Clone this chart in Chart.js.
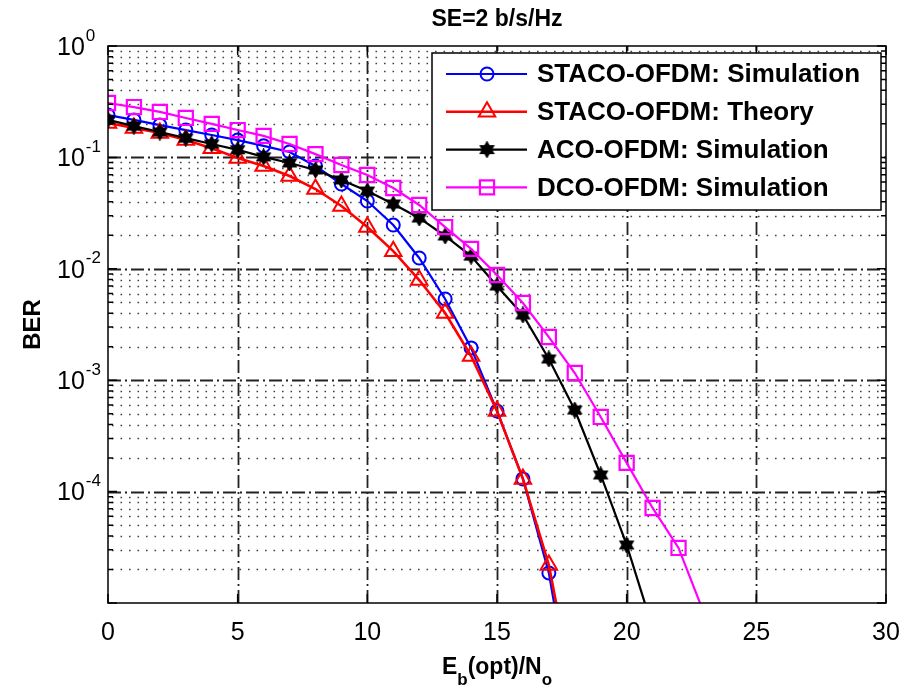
<!DOCTYPE html>
<html>
<head>
<meta charset="utf-8">
<script src="https://cdn.jsdelivr.net/npm/chart.js@4.4.1/dist/chart.umd.min.js"></script>
<style>
html,body{margin:0;padding:0;background:#fff;}
</style>
</head>
<body>
<canvas id="ber" width="903" height="692"></canvas>
<script>
// Eb(opt)/No in dB
var snr = [0,1,2,3,4,5,6,7,8,9,10,11,12,13,14,15,16,17,18,19,20,21,22,23];

// BER
var stacoSim = [0.240,0.217,0.195,0.176,0.159,0.143,0.127,0.112,0.0837,0.0577,0.0406,0.0247,0.0125,0.00536,0.00195,5.29e-4,1.30e-4,1.86e-5,8.3e-7];
var stacoTheory = [0.204,0.184,0.166,0.143,0.121,0.0988,0.0837,0.0681,0.0520,0.0366,0.0237,0.0144,0.00793,0.00401,0.00165,5.29e-4,1.30e-4,2.19e-5,1.35e-6];
var acoSim = [0.217,0.191,0.169,0.149,0.132,0.117,0.101,0.0891,0.0771,0.0627,0.0499,0.0382,0.0286,0.0197,0.0130,0.00701,0.00385,0.00155,5.40e-4,1.41e-4,3.32e-5,6.0e-6];
var dcoSim = [0.308,0.283,0.256,0.226,0.200,0.176,0.156,0.132,0.107,0.0855,0.0695,0.0531,0.0374,0.0237,0.0151,0.00880,0.00493,0.00244,0.00116,4.68e-4,1.81e-4,7.13e-5,3.12e-5,7.9e-6];

var seriesNames = ['STACO-OFDM: Simulation','STACO-OFDM: Theory','ACO-OFDM: Simulation','DCO-OFDM: Simulation'];

// axis ticks
var xTicks = [0,5,10,15,20,25,30];
var yDecades = [1,1e-1,1e-2,1e-3,1e-4,1e-5];
var yExponents = ['0','-1','-2','-3','-4'];
var yMinor = [2,3,4,5,6,7,8,9];

var narrow = "'Liberation Sans Narrow','Liberation Sans',Arial,sans-serif";
var sans = "'Liberation Sans',Arial,sans-serif";

function toPoints(arr){
  return arr.map(function(v,i){ return {x:snr[i], y:v}; });
}

function hexagram(size, color, lw){
  var c = document.createElement('canvas');
  c.width = size; c.height = size;
  var g = c.getContext('2d');
  var cx = size/2, r = size/2 - lw/2 - 0.5;
  g.beginPath();
  for (var i=0;i<12;i++){
    var a = -Math.PI/2 + i*Math.PI/6;
    var rr = (i%2==0) ? r : r*0.577;
    g.lineTo(cx + rr*Math.cos(a), cx + rr*Math.sin(a));
  }
  g.closePath();
  g.fillStyle = color;
  g.fill();
  g.lineWidth = lw;
  g.strokeStyle = color;
  g.stroke();
  return c;
}
var hexMark = hexagram(17, '#000', 2);

function drawMarker(ctx, ds, x, y){
  ctx.save();
  ctx.lineWidth = ds.pointBorderWidth;
  ctx.strokeStyle = ds.pointBorderColor;
  var st = ds.pointStyle, r = ds.pointRadius;
  if (typeof st !== 'string'){
    ctx.drawImage(st, x - st.width/2, y - st.height/2);
  } else {
    ctx.beginPath();
    if (st === 'circle') ctx.arc(x, y, r, 0, Math.PI*2);
    if (st === 'rect'){ var s = r*Math.SQRT1_2; ctx.rect(x-s, y-s, 2*s, 2*s); }
    if (st === 'triangle'){
      for (var i=0;i<3;i++){
        var a = -Math.PI/2 + i*2*Math.PI/3;
        ctx.lineTo(x + r*Math.cos(a), y + r*Math.sin(a));
      }
      ctx.closePath();
    }
    ctx.stroke();
  }
  ctx.restore();
}

var matlabAxes = {
  id: 'matlabAxes',
  beforeDatasetsDraw: function(chart){
    var ctx = chart.ctx, a = chart.chartArea;
    var xs = chart.scales.x, ys = chart.scales.y;
    ctx.save();
    // minor dotted grid
    ctx.strokeStyle = '#444';
    ctx.lineWidth = 1.6;
    ctx.setLineDash([1.6, 6.9]);
    for (var d=1; d<yDecades.length; d++){
      yMinor.forEach(function(m){
        var py = Math.round(ys.getPixelForValue(yDecades[d]*m)) + 0.5;
        ctx.beginPath(); ctx.moveTo(a.left+4, py); ctx.lineTo(a.right, py); ctx.stroke();
      });
    }
    // major dash-dot grid
    ctx.strokeStyle = '#222';
    ctx.lineWidth = 1.8;
    ctx.setLineDash([13, 4, 2, 4]);
    for (var k=1; k<yDecades.length-1; k++){
      var py = Math.round(ys.getPixelForValue(yDecades[k])) + 0.5;
      ctx.beginPath(); ctx.moveTo(a.left, py); ctx.lineTo(a.right, py); ctx.stroke();
    }
    for (var j=1; j<xTicks.length-1; j++){
      var px = Math.round(xs.getPixelForValue(xTicks[j])) + 0.5;
      ctx.beginPath(); ctx.moveTo(px, a.bottom); ctx.lineTo(px, a.top); ctx.stroke();
    }
    ctx.restore();
  },
  afterDatasetsDraw: function(chart){
    var ctx = chart.ctx, a = chart.chartArea;
    var xs = chart.scales.x, ys = chart.scales.y;
    ctx.save();
    ctx.setLineDash([]);
    ctx.strokeStyle = '#000';
    ctx.lineWidth = 1.5;
    ctx.strokeRect(a.left, a.top, a.right - a.left, a.bottom - a.top);
    // inward ticks
    ctx.beginPath();
    xTicks.forEach(function(t){
      var px = xs.getPixelForValue(t);
      ctx.moveTo(px, a.bottom); ctx.lineTo(px, a.bottom - 9);
      ctx.moveTo(px, a.top); ctx.lineTo(px, a.top + 9);
    });
    yDecades.forEach(function(t, d){
      var py = ys.getPixelForValue(t);
      ctx.moveTo(a.left, py); ctx.lineTo(a.left + 9, py);
      ctx.moveTo(a.right, py); ctx.lineTo(a.right - 9, py);
      if (d > 0){
        yMinor.forEach(function(m){
          var q = ys.getPixelForValue(t*m);
          ctx.moveTo(a.left, q); ctx.lineTo(a.left + 5, q);
          ctx.moveTo(a.right, q); ctx.lineTo(a.right - 5, q);
        });
      }
    });
    ctx.stroke();

    // y tick labels 10^k
    ctx.fillStyle = '#000';
    ctx.textBaseline = 'middle';
    ctx.textAlign = 'left';
    yExponents.forEach(function(e, i){
      var py = ys.getPixelForValue(yDecades[i]);
      ctx.font = '25px ' + narrow;
      ctx.fillText('10', 57, py + 2);
      var w = ctx.measureText('10').width;
      ctx.font = '17px ' + narrow;
      ctx.fillText(e, 57 + w + 1, py - 10);
    });

    // y title
    ctx.save();
    ctx.translate(33, (a.top + a.bottom)/2);
    ctx.rotate(-Math.PI/2);
    ctx.textAlign = 'center';
    ctx.font = 'bold 24px ' + sans;
    ctx.fillText('BER', 0, 0);
    ctx.restore();

    // x title with subscripts
    var parts = [['E',0],['b',1],['(opt)/N',0],['o',1]];
    var big = 'bold 23px ' + sans, small = 'bold 17px ' + sans;
    var total = 0;
    parts.forEach(function(p){ ctx.font = p[1] ? small : big; total += ctx.measureText(p[0]).width; });
    var cx = (a.left + a.right)/2 - total/2;
    ctx.textBaseline = 'alphabetic';
    parts.forEach(function(p){
      ctx.font = p[1] ? small : big;
      ctx.fillText(p[0], cx, p[1] ? 685 : 674);
      cx += ctx.measureText(p[0]).width;
    });

    // legend
    var lw = 449, lh = 157;
    var lx = a.right - 5 - lw, ly = a.top + 7;
    ctx.fillStyle = '#fff';
    ctx.fillRect(lx, ly, lw, lh);
    ctx.strokeStyle = '#000';
    ctx.lineWidth = 1.5;
    ctx.strokeRect(lx, ly, lw, lh);
    chart.data.datasets.forEach(function(ds, i){
      var ry = ly + 21 + i*37.8;
      ctx.strokeStyle = ds.borderColor;
      ctx.lineWidth = ds.borderWidth;
      ctx.beginPath(); ctx.moveTo(lx + 14, ry); ctx.lineTo(lx + 95, ry); ctx.stroke();
      drawMarker(ctx, ds, lx + 55, ry);
      ctx.fillStyle = '#000';
      ctx.textBaseline = 'middle';
      ctx.font = 'bold 26px ' + sans;
      ctx.fillText(ds.label, lx + 105, ry + 1);
    });
    ctx.restore();
  }
};

var ctx = document.getElementById('ber');
var berChart = new Chart(ctx, {
  type: 'line',
  data: {
    datasets: [
      {label: seriesNames[0], data: toPoints(stacoSim), borderColor: '#0000ff', borderWidth: 2.2,
       pointStyle: 'circle', pointRadius: 6.5, pointBorderWidth: 2, pointBorderColor: '#0000ff', pointBackgroundColor: 'transparent', order: 4},
      {label: seriesNames[1], data: toPoints(stacoTheory), borderColor: '#ff0000', borderWidth: 2.6,
       pointStyle: 'triangle', pointRadius: 9.5, pointBorderWidth: 2, pointBorderColor: '#ff0000', pointBackgroundColor: 'transparent', order: 3},
      {label: seriesNames[2], data: toPoints(acoSim), borderColor: '#000000', borderWidth: 2.2,
       pointStyle: hexMark, pointRadius: 8, pointBorderWidth: 2, pointBorderColor: '#000000', pointBackgroundColor: 'transparent', order: 2},
      {label: seriesNames[3], data: toPoints(dcoSim), borderColor: '#ff00ff', borderWidth: 2.2,
       pointStyle: 'rect', pointRadius: 10, pointBorderWidth: 2.2, pointBorderColor: '#ff00ff', pointBackgroundColor: 'transparent', order: 1}
    ]
  },
  options: {
    responsive: false,
    devicePixelRatio: 1,
    animation: false,
    layout: {padding: {left: 0, right: 17, top: 0, bottom: 0}},
    plugins: {
      legend: {display: false},
      tooltip: {enabled: false},
      title: {
        display: true,
        text: 'SE=2 b/s/Hz',
        color: '#000',
        fullSize: false,
        font: {family: sans, size: 23, weight: 'bold'},
        padding: {top: 6, bottom: 12.4}
      }
    },
    scales: {
      x: {
        type: 'linear', min: 0, max: 30,
        ticks: {stepSize: 5, color: '#000', font: {family: narrow, size: 25}, padding: 15, maxRotation: 0},
        grid: {display: false, drawTicks: false},
        border: {display: false},
        afterFit: function(s){ s.height = 89; s.paddingLeft = 0; s.paddingRight = 0; }
      },
      y: {
        type: 'logarithmic', min: 1e-5, max: 1,
        ticks: {display: false},
        grid: {display: false, drawTicks: false},
        border: {display: false},
        afterFit: function(s){ s.width = 108; s.paddingTop = 0; s.paddingBottom = 0; }
      }
    }
  },
  plugins: [matlabAxes]
});
</script>
</body>
</html>
